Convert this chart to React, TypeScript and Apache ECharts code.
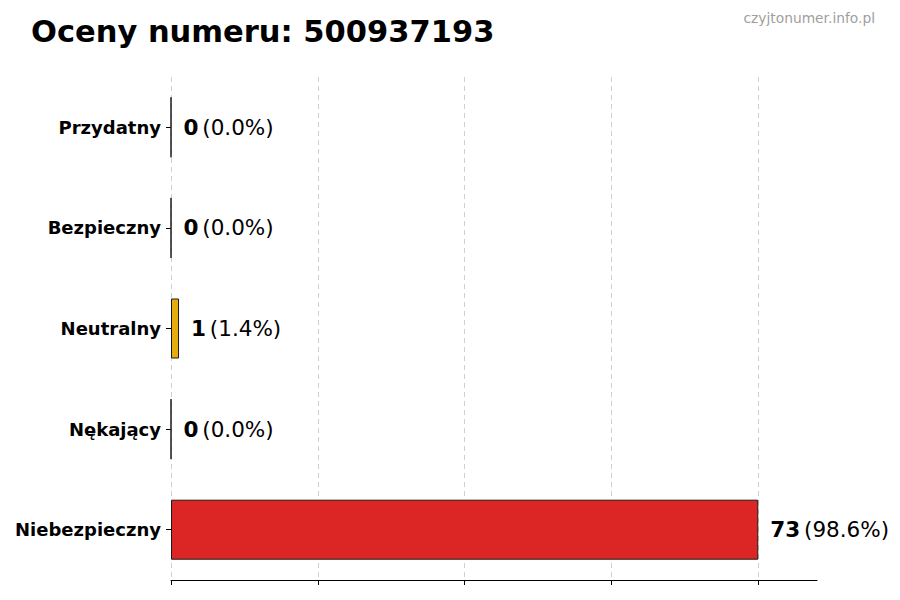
import React, { useEffect, useRef } from 'react';
import * as echarts from 'echarts';

const categories = ['Niebezpieczny', 'Nękający', 'Neutralny', 'Bezpieczny', 'Przydatny'];
const counts = [73, 0, 1, 0, 0];
const percents = ['98.6', '0.0', '1.4', '0.0', '0.0'];
const barColors = ['#dc2626', '#f97316', '#e6ac10', '#65a30d', '#16a34a'];
const xTicks = [0, 18.25, 36.5, 54.75, 73];
const xMax = 80.3;

const App = () => {
  const chartRef = useRef<HTMLDivElement>(null);

  useEffect(() => {
    if (!chartRef.current) return;
    const chart = echarts.init(chartRef.current, null, { renderer: 'svg' });

    const option: echarts.EChartsOption = {
      animation: false,
      backgroundColor: '#ffffff',
      textStyle: { fontFamily: 'DejaVu Sans' },
      title: [
        {
          text: 'Oceny numeru: 500937193',
          left: 31,
          top: 16,
          padding: 0,
          textStyle: { fontSize: 30.5, fontWeight: 'bold', color: '#000', fontFamily: 'DejaVu Sans' },
        },
        {
          text: 'czyjtonumer.info.pl',
          right: 25,
          top: 11,
          padding: 0,
          textStyle: { fontSize: 13.8, fontWeight: 'normal', color: '#a0a0a0', fontFamily: 'DejaVu Sans' },
        },
      ],
      grid: { left: 171, right: 83, top: 77, bottom: 20 },
      xAxis: {
        type: 'value',
        min: 0,
        max: xMax,
        axisLine: { show: true, lineStyle: { color: '#000', width: 1 } },
        axisTick: { show: true, length: 5, customValues: xTicks, lineStyle: { color: '#000' } },
        axisLabel: { show: false, customValues: xTicks },
        splitLine: { show: true, lineStyle: { color: '#d0d0d0', type: [5, 4], width: 1 } },
      } as any,
      yAxis: {
        type: 'category',
        data: categories,
        axisLine: { show: false },
        axisTick: { show: true, alignWithLabel: true, length: 5, lineStyle: { color: '#000' } },
        axisLabel: { fontSize: 18, fontWeight: 'bold', color: '#000', margin: 10 },
      },
      series: [
        {
          type: 'bar',
          barWidth: 60,
          data: counts.map((v, i) => ({
            value: v,
            itemStyle: { color: barColors[i], borderColor: '#1a1a1a', borderWidth: 1 },
          })),
          label: {
            show: true,
            position: 'right',
            distance: 12,
            formatter: (p: any) => `{b|${counts[p.dataIndex]}} {n|(${percents[p.dataIndex]}%)}`,
            rich: {
              b: { fontSize: 21.5, fontWeight: 'bold', color: '#000', fontFamily: 'DejaVu Sans' },
              n: { fontSize: 21.5, color: '#000', fontFamily: 'DejaVu Sans' },
            },
          },
        },
      ],
    };
    chart.setOption(option);

    return () => {
      chart.dispose();
    };
  }, []);

  return (
    <div
      ref={chartRef}
      style={{ position: 'fixed', left: 0, top: 0, width: '900px', height: '600px' }}
    />
  );
};

export default App;
